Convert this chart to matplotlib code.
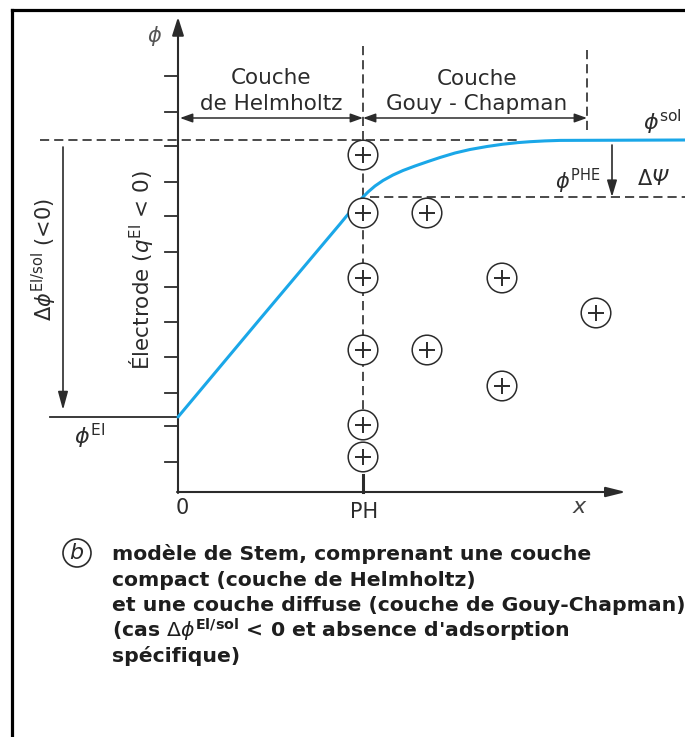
import matplotlib.pyplot as plt
from matplotlib.patches import Circle, FancyArrowPatch

# potential profile (x, y in picture units, y downward)
curve_x = [178, 260, 340, 347, 353, 358, 363, 368, 375, 383, 393, 403, 415,
           428, 440, 455, 470, 487, 503, 518, 530, 545, 560, 685]
curve_y = [417, 319, 224, 215.5, 208.5, 202.5, 197, 192, 186, 180.5, 175,
           170.5, 166, 161.5, 157.5, 153, 149.5, 146.5, 144.2, 142.6, 141.7,
           140.9, 140.4, 140]

# cations (+)
ion_x = [363, 363, 427, 363, 502, 363, 427, 502, 363, 363, 596]
ion_y = [155, 213, 213, 278, 278, 350, 350, 386, 425, 457, 313]

# ticks on the potential axis
tick_y = [76, 112, 146, 182, 216, 252, 287, 322, 357, 393, 426, 462]

x0, x_ph, x_gc = 178, 363, 587
y_axis_x = 492
y_sol, y_phe, y_el = 140, 197, 417

caption = [
    "modèle de Stem, comprenant une couche",
    "compact (couche de Helmholtz)",
    "et une couche diffuse (couche de Gouy-Chapman)",
    r"(cas $\Delta\phi^{\mathbf{El/sol}}$ < 0 et absence d'adsorption",
    "spécifique)",
]
caption_y = [560, 586, 611, 637, 662]

ink = "#2b2b2b"
blue = "#1aa7e8"

fig = plt.figure(figsize=(6.85, 7.37), dpi=100)
ax = fig.add_axes([0, 0, 1, 1])
ax.set_xlim(0, 685)
ax.set_ylim(737, 0)
ax.axis("off")

# frame (top and left only visible)
ax.plot([12, 685], [10, 10], color="black", lw=2.3)
ax.plot([12, 12], [10, 737], color="black", lw=2.3)

# axes with arrows
ax.annotate("", xy=(x0, 17), xytext=(x0, y_axis_x + 1),
            arrowprops=dict(arrowstyle="-|>,head_length=1.1,head_width=0.35",
                            color=ink, lw=1.5, shrinkA=0, shrinkB=0))
ax.annotate("", xy=(626, y_axis_x), xytext=(x0 - 1, y_axis_x),
            arrowprops=dict(arrowstyle="-|>,head_length=1.2,head_width=0.3",
                            color=ink, lw=1.5, shrinkA=0, shrinkB=0))
for ty in tick_y:
    ax.plot([165, x0], [ty, ty], color=ink, lw=1.3)
ax.plot([x_ph, x_ph], [475, y_axis_x], color=ink, lw=2.2)

dash = dict(color=ink, lw=1.2, dashes=(5.5, 3))
# dashed guides
ax.plot([40, 520], [y_sol, y_sol], **dash)
ax.plot([370, 685], [y_phe, y_phe], **dash)
ax.plot([x_ph, x_ph], [46, 472], **dash)
ax.plot([x_gc, x_gc], [50, 133], **dash)

# phi_El level
ax.plot([50, x0], [y_el, y_el], color=ink, lw=1.3)

# layer extent arrows
for xa, xb in [(x0 + 2, x_ph), (x_ph, x_gc)]:
    ax.add_patch(FancyArrowPatch((xa, 118), (xb, 118),
                                 arrowstyle="<|-|>,head_length=5,head_width=1.8",
                                 color=ink, lw=1.1, shrinkA=0, shrinkB=0,
                                 mutation_scale=1.5))

# potential drop arrows
ax.annotate("", xy=(63, 410), xytext=(63, 147),
            arrowprops=dict(arrowstyle="-|>,head_length=1.1,head_width=0.3",
                            color=ink, lw=1.2, shrinkA=0, shrinkB=0))
ax.annotate("", xy=(612, y_phe), xytext=(612, 145),
            arrowprops=dict(arrowstyle="-|>,head_length=1.0,head_width=0.3",
                            color=ink, lw=1.2, shrinkA=0, shrinkB=0))

# curve
ax.plot(curve_x, curve_y, color=blue, lw=2.2, solid_capstyle="round",
        solid_joinstyle="round", zorder=4)

# ions
for ix, iy in zip(ion_x, ion_y):
    ax.add_patch(Circle((ix, iy), 14.8, facecolor="white", edgecolor=ink,
                        lw=1.1, zorder=5))
ax.scatter(ion_x, ion_y, marker="+", s=120, color=ink, linewidths=1.4, zorder=6)

# labels
fs = 15.5
ax.text(271, 84, "Couche", fontsize=fs, ha="center", va="baseline", color=ink)
ax.text(271, 110, "de Helmholtz", fontsize=fs, ha="center", va="baseline", color=ink)
ax.text(477, 85, "Couche", fontsize=fs, ha="center", va="baseline", color=ink)
ax.text(477, 110, "Gouy - Chapman", fontsize=fs, ha="center", va="baseline", color=ink)

ax.text(155, 36, r"$\phi$", fontsize=15, ha="center", va="center", color="#555555")
ax.text(182, 508, "0", fontsize=15, ha="center", va="center", color=ink)
ax.text(364, 512, "PH", fontsize=15, ha="center", va="center", color=ink)
ax.text(580, 507, r"$x$", fontsize=16, ha="center", va="center", color="#444444")

ax.text(90, 436, r"$\phi^{\mathrm{El}}$", fontsize=16, ha="center", va="center", color=ink)
ax.text(662, 122, r"$\phi^{\mathrm{sol}}$", fontsize=16, ha="center", va="center", color=ink)
ax.text(578, 181, r"$\phi^{\mathrm{PHE}}$", fontsize=15, ha="center", va="center", color=ink)
ax.text(645, 179, "Δ", fontsize=15, ha="center", va="center", color=ink)
ax.text(660, 179, "Ψ", fontsize=15, style="italic", ha="center", va="center", color=ink)

ax.text(44, 260, r"$\Delta\phi^{\mathrm{El/sol}}$ (<0)", fontsize=15, rotation=90,
        ha="center", va="center", color=ink)
ax.text(142, 270, r"Électrode ($q^{\mathrm{El}}$ < 0)", fontsize=15.5, rotation=90,
        ha="center", va="center", color=ink)

# caption
ax.add_patch(Circle((77, 553), 14, facecolor="none", edgecolor=ink, lw=1.2))
ax.text(77, 553, r"$b$", fontsize=16, ha="center", va="center", color=ink)
for line, cy in zip(caption, caption_y):
    ax.text(112, cy, line, fontsize=14.7, fontweight="bold", ha="left",
            va="baseline", color="#1e1e1e")

fig.savefig("out.png", dpi=100)
